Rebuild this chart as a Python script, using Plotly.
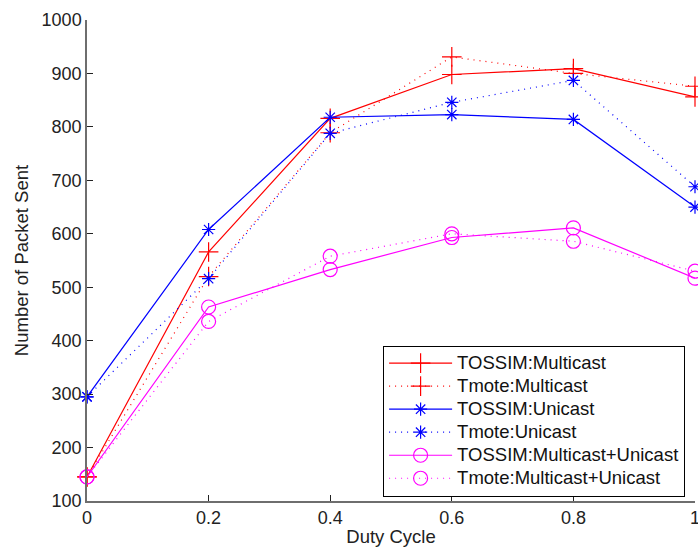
import plotly.graph_objects as go

duty_cycle = [0, 0.2, 0.4, 0.6, 0.8, 1.0]
tossim_multicast = [145, 566, 816, 898, 909, 856]
tmote_multicast = [145, 520, 789, 931, 900, 876]
tossim_unicast = [295, 608, 818, 823, 814, 650]
tmote_unicast = [295, 516, 788, 846, 887, 688]
tossim_mu = [145, 463, 533, 593, 611, 517]
tmote_mu = [145, 436, 558, 600, 586, 530]

x_ticks = [0, 0.2, 0.4, 0.6, 0.8, 1]
x_ticktext = ["0", "0.2", "0.4", "0.6", "0.8", "1"]
y_ticks = [100, 200, 300, 400, 500, 600, 700, 800, 900, 1000]

series = [
    ("TOSSIM:Multicast", tossim_multicast, "#ff0000", "solid", "cross-thin-open", 14),
    ("Tmote:Multicast", tmote_multicast, "#ff0000", "1px,5px", "cross-thin-open", 14),
    ("TOSSIM:Unicast", tossim_unicast, "#0000ff", "solid", "asterisk-open", 11),
    ("Tmote:Unicast", tmote_unicast, "#0000ff", "1px,5px", "asterisk-open", 11),
    ("TOSSIM:Multicast+Unicast", tossim_mu, "#ff00ff", "solid", "circle-open", 14),
    ("Tmote:Multicast+Unicast", tmote_mu, "#ff00ff", "1px,5px", "circle-open", 14),
]

fig = go.Figure()
for name, ys, color, dash, sym, size in series:
    fig.add_trace(go.Scatter(
        x=duty_cycle, y=ys, name=f'<span style="font-size:18.5px">{name}</span>',
        mode="lines+markers",
        line=dict(color=color, width=1.2, dash=dash),
        marker=dict(symbol=sym, size=size, color=color, line=dict(color=color, width=1.2)),
        cliponaxis=False,
    ))

font = "Liberation Sans, Arial, Helvetica, sans-serif"
fig.update_layout(
    width=698, height=550,
    margin=dict(l=87, r=3, t=20, b=49),
    plot_bgcolor="white", paper_bgcolor="white",
    font=dict(family=font, size=18, color="#222222"),
    showlegend=True,
    legend=dict(
        x=0.487, y=0.323, xanchor="left", yanchor="top",
        bordercolor="black", borderwidth=1, bgcolor="white",
        font=dict(family=font, size=15.4, color="#111111"),
        tracegroupgap=0, itemwidth=63,
    ),
    xaxis=dict(
        range=[0, 1], tickvals=x_ticks, ticktext=x_ticktext,
        showgrid=False, zeroline=False, showline=True, linecolor="#6e6e6e", linewidth=1.5,
        ticks="inside", ticklen=6, tickcolor="#222222", tickwidth=1,
        ticklabeloverflow="allow",
        title=dict(text="Duty Cycle", standoff=3, font=dict(size=18.5)),
        automargin=False,
    ),
    yaxis=dict(
        range=[100, 1000], tickvals=y_ticks,
        showgrid=False, zeroline=False, showline=True, linecolor="#6e6e6e", linewidth=1.5,
        ticks="inside", ticklen=6, tickcolor="#222222", tickwidth=1,
        title=dict(text="Number of Packet Sent", standoff=8, font=dict(size=18.5)),
        automargin=False,
    ),
)

fig.write_html("out.html")
